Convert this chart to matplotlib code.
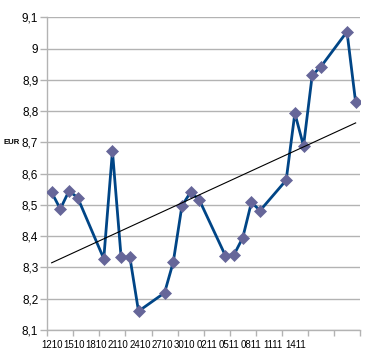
import matplotlib
matplotlib.use("Agg")
import matplotlib.pyplot as plt
import numpy as np
import pandas as pd

# Data (dates in 2010, dd.mm)
dates = ["12.10", "13.10", "14.10", "15.10", "18.10", "19.10", "20.10", "21.10",
         "22.10", "25.10", "26.10", "27.10", "28.10", "29.10", "01.11", "02.11",
         "03.11", "04.11", "05.11", "08.11", "09.11", "10.11", "11.11", "12.11",
         "15.11", "16.11"]
values = [8.54, 8.487, 8.545, 8.523, 8.328, 8.672, 8.332, 8.334,
          8.16, 8.219, 8.317, 8.497, 8.541, 8.516, 8.338, 8.341,
          8.395, 8.508, 8.482, 8.579, 8.793, 8.689, 8.915, 8.942,
          9.054, 8.828]
tick_labels = ["1210", "1510", "1810", "2110", "2410", "2710", "3010",
               "0211", "0511", "0811", "1111", "1411"]
y_ticks = [8.1, 8.2, 8.3, 8.4, 8.5, 8.6, 8.7, 8.8, 8.9, 9.0, 9.1]

dt = pd.to_datetime([d + ".2010" for d in dates], format="%d.%m.%Y")
days = np.array((dt - dt[0]).days, dtype=float)

fig = plt.figure(figsize=(3.9, 3.59), dpi=100)
ax = fig.add_axes([47.3 / 390, 1 - 330 / 359, (360 - 47.3) / 390, (330 - 17.3) / 359])

grid_c = "#b3b3b3"
ax.set_xlim(-0.5, 35.5)
ax.set_ylim(8.1, 9.1)
for yv in y_ticks:
    ax.axhline(yv, color=grid_c, lw=1.0, zorder=1)

ax.plot(days, values, color="#004586", lw=2.0, zorder=3,
        marker="D", markersize=6.5, markerfacecolor="#666699",
        markeredgecolor="#666699", markeredgewidth=0.5)

# linear trendline
k, b = np.polyfit(days, values, 1)
xt = np.array([days[0], days[-1]])
ax.plot(xt, k * xt + b, color="black", lw=0.8, zorder=4)

for s in ["top", "right"]:
    ax.spines[s].set_visible(False)
for s in ["left", "bottom"]:
    ax.spines[s].set_color(grid_c)
    ax.spines[s].set_linewidth(1.0)

ax.set_yticks(y_ticks)
ax.set_yticklabels([("%g" % v).replace(".", ",") for v in y_ticks],
                   fontsize=8.5, color="black", family="Liberation Sans")
ax.tick_params(axis="y", length=5, width=1.0, color=grid_c, pad=1.5)

# x tick marks every 3 days on slot boundaries
ax.set_xticks(np.arange(-0.5, 35.6, 3), minor=True)
ax.tick_params(axis="x", which="minor", length=4, width=1.0, color=grid_c)
ax.set_xticks([i * 2.55 for i in range(len(tick_labels))])
ax.set_xticklabels(tick_labels, fontsize=7.0, color="black", family="Liberation Sans")
ax.tick_params(axis="x", which="major", length=0, pad=7)

fig.text(4 / 390, 1 - 143 / 359, "EUR", fontsize=5.6, fontweight="bold",
         family="Liberation Sans", va="center", ha="left")

fig.savefig("out.png", dpi=100)
